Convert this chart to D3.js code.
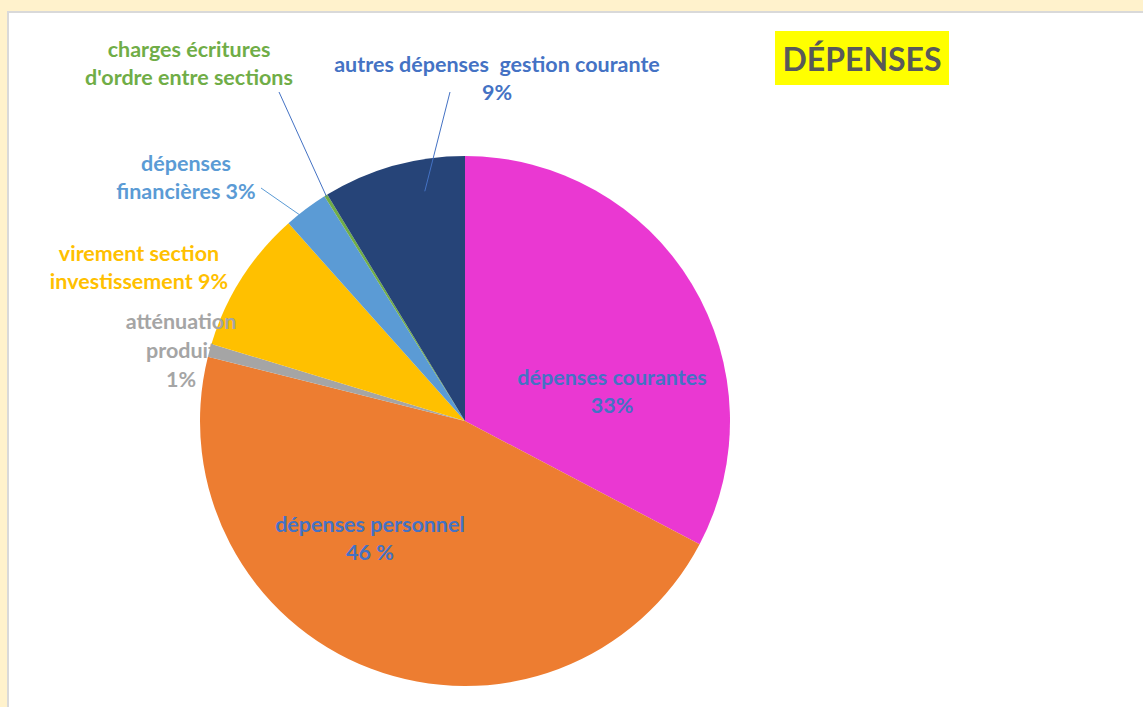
<!DOCTYPE html>
<html>
<head>
<meta charset="utf-8">
<script src="https://cdn.jsdelivr.net/npm/d3@7"></script>
<style>
  html, body { margin: 0; padding: 0; background: #fff2cc; }
  svg { display: block; }
</style>
</head>
<body>
<div id="chart"></div>
<script>
// parts of the expenses, clockwise from 12 o'clock
const categories = [
  "dépenses courantes",
  "dépenses personnel",
  "atténuation produit",
  "virement section investissement",
  "dépenses financières",
  "charges écritures d'ordre entre sections",
  "autres dépenses  gestion courante"
]
const values = [32.7, 46.2, 0.8, 8.7, 2.7, 0.2, 8.7]
const labelLines = [
  ["dépenses courantes", "33%"],
  ["dépenses personnel", "46 %"],
  ["atténuation", "produit", "1%"],
  ["virement section", "investissement 9%"],
  ["dépenses", "financières 3%"],
  ["charges écritures", "d'ordre entre sections"],
  ["autres dépenses  gestion courante", "9%"]
]
const colors = ["#ea38d2", "#ed7d31", "#a5a5a5", "#ffc000", "#5b9bd5", "#70ad47", "#264478"]
const textColors = ["#4472c4", "#4472c4", "#a5a5a5", "#ffc000", "#5b9bd5", "#70ad47", "#4472c4"]

const width = 1143, height = 707
const cx = 465, cy = 421, radius = 265

// where each label block sits (centre of first line) and leader line ends
const labelLayout = [
  { x: 612, y: 385 },
  { x: 370, y: 532 },
  { x: 181, y: 329 },
  { x: 139, y: 261 },
  { x: 186, y: 171, from: [261, 188], at: 0.9, shift: 0 },
  { x: 189, y: 57, from: [279, 92], at: 0.995, shift: 0 },
  { x: 497, y: 72, from: [450, 92], at: 0.88, shift: 0.1 }
]
const lineH = 28

const svg = d3.select('#chart').append('svg')
  .attr('width', width)
  .attr('height', height)

// white panel
svg.append('rect')
  .attr('x', 8).attr('y', 12)
  .attr('width', width).attr('height', height)
  .attr('fill', '#fff')
  .attr('stroke', '#d9d9d9')
  .attr('stroke-width', 2)

const pie = d3.pie().sort(null).value(d => d)
const arcs = pie(values)
const arc = d3.arc().innerRadius(0).outerRadius(radius)

const g = svg.append('g').attr('transform', `translate(${cx},${cy})`)

g.selectAll('path')
  .data(arcs)
  .enter()
  .append('path')
  .attr('d', arc)
  .attr('fill', (d, i) => colors[i])

// leader lines
arcs.forEach((d, i) => {
  const lay = labelLayout[i]
  if (!lay.from) return
  const mid = (d.startAngle + d.endAngle) / 2 + lay.shift
  const r = radius * lay.at
  svg.append('line')
    .attr('x1', lay.from[0]).attr('y1', lay.from[1])
    .attr('x2', cx + Math.sin(mid) * r)
    .attr('y2', cy - Math.cos(mid) * r)
    .attr('stroke', i === 4 ? '#5b9bd5' : '#4472c4')
    .attr('stroke-width', 1)
})

// labels
labelLines.forEach((lines, i) => {
  const lay = labelLayout[i]
  const t = svg.append('text')
    .attr('text-anchor', 'middle')
    .attr('font-family', 'Lato, "Open Sans", sans-serif')
    .attr('font-weight', 'bold')
    .attr('font-size', 21.5)
    .attr('fill', textColors[i])
  lines.forEach((s, k) => {
    t.append('tspan')
      .attr('x', lay.x)
      .attr('y', lay.y + k * (i === 2 ? 29 : lineH))
      .attr('xml:space', 'preserve')
      .text(s)
  })
})

// title
svg.append('rect')
  .attr('x', 775).attr('y', 31)
  .attr('width', 174).attr('height', 54)
  .attr('fill', '#ffff00')
svg.append('text')
  .attr('x', 862).attr('y', 71)
  .attr('text-anchor', 'middle')
  .attr('font-family', 'Lato, "Open Sans", sans-serif')
  .attr('font-weight', 'bold')
  .attr('font-size', 32)
  .attr('fill', '#595959')
  .text('DÉPENSES')
</script>
</body>
</html>
